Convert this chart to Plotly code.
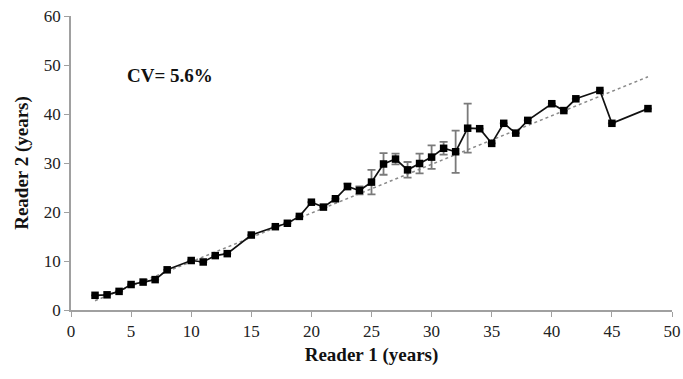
import plotly.graph_objects as go

reader1 = [2, 3, 4, 5, 6, 7, 8, 10, 11, 12, 13, 15, 17, 18, 19, 20, 21, 22, 23, 24,
           25, 26, 27, 28, 29, 30, 31, 32, 33, 34, 35, 36, 37, 38, 40, 41, 42, 44, 45, 48]
reader2 = [3.0, 3.1, 3.8, 5.2, 5.7, 6.2, 8.2, 10.1, 9.8, 11.1, 11.5, 15.3, 17.0, 17.7, 19.1, 22.0, 21.0, 22.7, 25.2, 24.4,
           26.1, 29.8, 30.8, 28.6, 29.9, 31.2, 33.0, 32.3, 37.1, 37.0, 34.0, 38.1, 36.1, 38.7, 42.1, 40.7, 43.1, 44.8, 38.1, 41.1]
err = [0, 0, 0, 0, 0, 0, 0, 0, 0, 0, 0, 0, 0, 0, 0, 0, 0, 0, 0.6, 0.8,
       2.5, 2.2, 1.1, 1.6, 2.0, 2.4, 1.3, 4.3, 5.0, 0, 0, 0, 0, 0, 0, 0, 0, 0, 0, 0]
trend_x = [2, 48]
trend_y = [1.9, 47.6]

x_ticks = [0, 5, 10, 15, 20, 25, 30, 35, 40, 45, 50]
y_ticks = [0, 10, 20, 30, 40, 50, 60]

font = "Liberation Serif"

fig = go.Figure()
fig.add_trace(go.Scatter(
    x=trend_x, y=trend_y, mode="lines",
    line=dict(color="#8a8a8a", width=1.5, dash="dot"),
    showlegend=False, hoverinfo="skip"))
fig.add_trace(go.Scatter(
    x=reader1, y=reader2, mode="lines+markers",
    line=dict(color="#111111", width=1.7),
    marker=dict(symbol="square", size=7.5, color="#000000"),
    error_y=dict(type="data", array=err, visible=True, color="#7a7a7a",
                 thickness=1.8, width=4),
    showlegend=False))

fig.add_annotation(x=8.2, y=47.8, text="<b>CV= 5.6%</b>", showarrow=False,
                   font=dict(family=font, size=19, color="#111111"))

axis_common = dict(
    showgrid=False, zeroline=False, showline=True, linecolor="#a0a0a0", linewidth=1.5,
    ticks="outside", ticklen=5, tickcolor="#a0a0a0", tickwidth=1,
    tickfont=dict(family=font, size=17, color="#222222"),
    automargin=False, ticklabeloverflow="allow",
)
fig.update_xaxes(range=[0, 50], tickvals=x_ticks, ticktext=[str(v) for v in x_ticks],
                 title=dict(text="<b>Reader 1 (years)</b>", font=dict(family=font, size=19, color="#111111"),
                            standoff=8),
                 **axis_common)
fig.update_yaxes(range=[0, 60], tickvals=y_ticks, ticktext=[str(v) for v in y_ticks],
                 title=dict(text="<b>Reader 2 (years)</b>", font=dict(family=font, size=19, color="#111111"),
                            standoff=10),
                 **axis_common)

fig.update_layout(
    width=683, height=379,
    margin=dict(l=71, r=11, t=16, b=69),
    plot_bgcolor="white", paper_bgcolor="white",
)

fig.write_html("out.html",
               config={"displayModeBar": False},
               post_script="document.body.style.margin='0';document.body.style.overflow='hidden';")
